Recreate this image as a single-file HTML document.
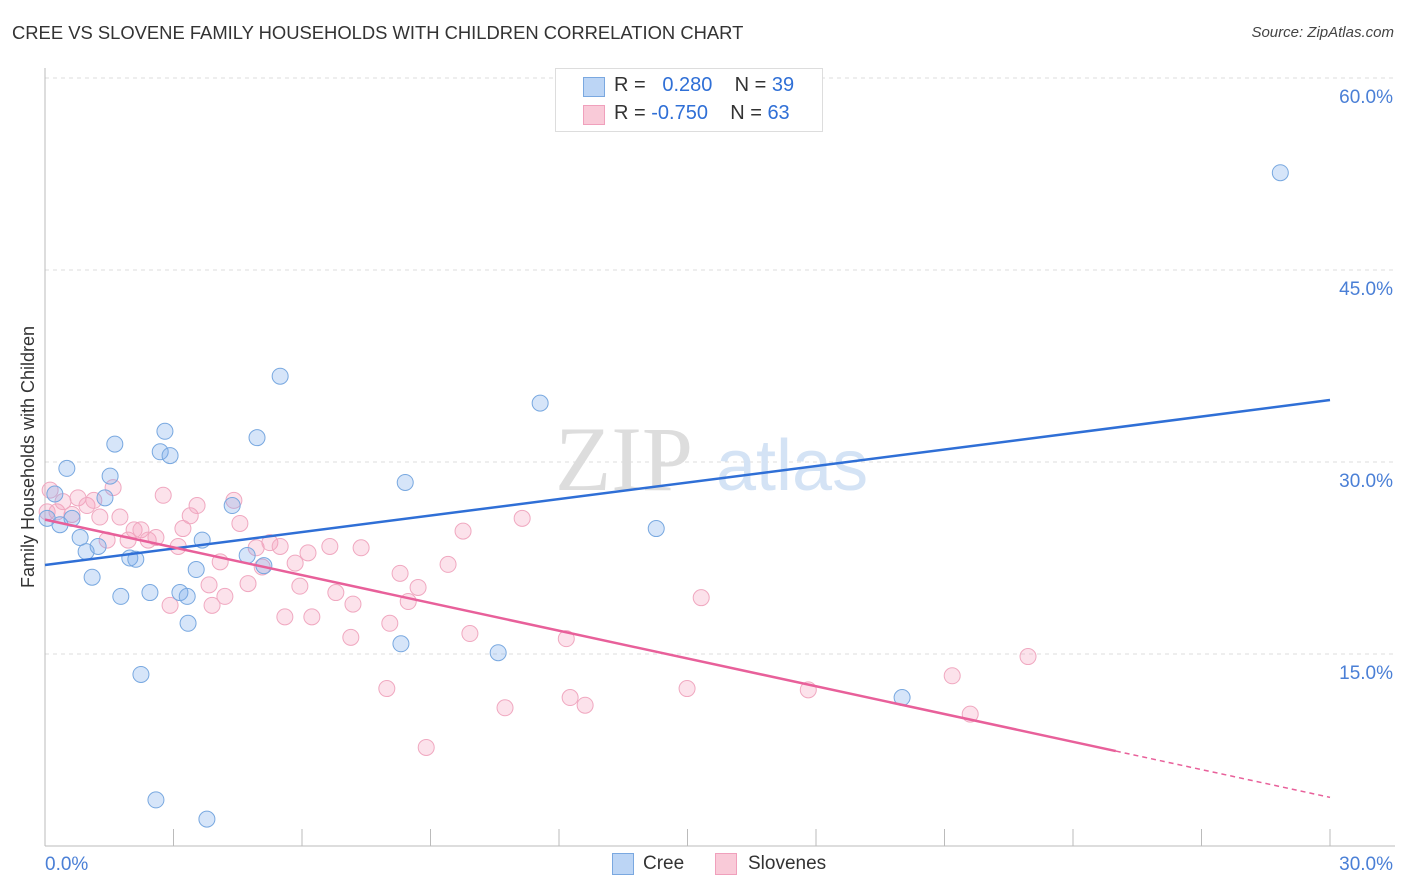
<!DOCTYPE html>
<html><head><meta charset="utf-8"><style>
body{margin:0;background:#fff;font-family:"Liberation Sans",sans-serif;}
#wrap{position:relative;width:1406px;height:892px;overflow:hidden;}
.t{position:absolute;white-space:nowrap;}
</style></head><body>
<div id="wrap">
<div class="t" style="left:12px;top:22px;font-size:18.4px;color:#333;">CREE VS SLOVENE FAMILY HOUSEHOLDS WITH CHILDREN CORRELATION CHART</div>
<div class="t" style="right:12px;top:24px;font-size:15px;color:#444;font-style:italic;">Source: ZipAtlas.com</div>
<svg id="svg" width="1406" height="892" style="position:absolute;left:0;top:0"></svg>
</div>
<script>
const xTicks=[0,30];
const yTicks=[15,30,45,60];
const creeX=[0.05,0.23,0.35,0.51,0.63,0.82,0.96,1.10,1.24,1.40,1.52,1.63,1.77,1.98,2.12,2.24,2.45,2.59,2.69,2.80,2.92,3.15,3.32,3.34,3.53,3.67,3.78,4.37,4.72,4.95,5.11,5.49,8.31,8.41,10.58,11.56,14.27,20.01,28.84];
const creeY=[25.6,27.5,25.1,29.5,25.6,24.1,23.0,21.0,23.4,27.2,28.9,31.4,19.5,22.5,22.4,13.4,19.8,3.6,30.8,32.4,30.5,19.8,19.5,17.4,21.6,23.9,2.1,26.6,22.7,31.9,21.9,36.7,15.8,28.4,15.1,34.6,24.8,11.6,52.6];
const sloX=[0.05,0.12,0.28,0.42,0.63,0.77,0.98,1.14,1.28,1.45,1.59,1.75,1.94,2.08,2.24,2.41,2.59,2.76,2.92,3.11,3.22,3.39,3.55,3.83,3.90,4.09,4.20,4.41,4.55,4.74,4.93,5.07,5.25,5.49,5.60,5.84,5.95,6.14,6.23,6.65,6.79,7.14,7.19,7.38,7.98,8.05,8.29,8.48,8.71,8.90,9.41,9.76,9.92,10.74,11.14,12.17,12.26,12.61,14.99,15.32,17.82,21.18,21.60,22.95];
const sloY=[26.1,27.8,26.1,26.9,25.9,27.2,26.6,27.0,25.7,23.9,28.0,25.7,23.9,24.7,24.7,23.9,24.1,27.4,18.8,23.4,24.8,25.8,26.6,20.4,18.8,22.2,19.5,27.0,25.2,20.5,23.3,21.8,23.7,23.4,17.9,22.1,20.3,22.9,17.9,23.4,19.8,16.3,18.9,23.3,12.3,17.4,21.3,19.1,20.2,7.7,22.0,24.6,16.6,10.8,25.6,16.2,11.6,11.0,12.3,19.4,12.2,13.3,10.3,14.8];
const creeLine=[21.95,34.84];
const sloLine=[25.5,3.8];
const sloSolidEnd=25.0;
const X0=45,X1=1330,Y0=846,PXY=12.8;
const sx=v=>X0+(v/30)*(X1-X0);
const sy=v=>Y0-v*PXY;
const svg=document.getElementById('svg');
const NS='http://www.w3.org/2000/svg';
function mk(t,a){const e=document.createElementNS(NS,t);for(const k in a)e.setAttribute(k,a[k]);svg.appendChild(e);return e;}
yTicks.forEach(v=>{
 const g=mk('line',{x1:X0,x2:1395,y1:sy(v),y2:sy(v),stroke:'#ddd','stroke-dasharray':'4,4'});
 
 
 const t=mk('text',{x:1393,y:sy(v)+25,'text-anchor':'end','font-size':19,fill:'#4a7fd6','font-family':'Liberation Sans'});
 t.textContent=v.toFixed(1)+'%';
 
 
});
let a=mk('line',{x1:X0,x2:X0,y1:68,y2:Y0,stroke:'#bbb'});


a=mk('line',{x1:X0,x2:1395,y1:Y0,y2:Y0,stroke:'#bbb'});


for(let i=1;i<=10;i++){const tk=mk('line',{x1:sx(i*3),x2:sx(i*3),y1:829,y2:Y0,stroke:'#bbb'});
 
 }
xTicks.forEach((v,i)=>{const t=mk('text',{x:i?1393:45,y:870,'text-anchor':i?'end':'start','font-size':19,fill:'#4a7fd6','font-family':'Liberation Sans'});
 t.textContent=v.toFixed(1)+'%';
 
 });
let w=mk('text',{x:555,y:490,'font-size':92,fill:'#ddd','font-family':'Liberation Serif'});w.textContent='ZIP';


w=mk('text',{x:716,y:490,'font-size':72,fill:'#d4e3f5','font-family':'Liberation Sans'});w.textContent='atlas';


const yt=mk('text',{x:34,y:457,transform:'rotate(-90 34 457)','text-anchor':'middle','font-size':18,fill:'#333','font-family':'Liberation Sans'});
yt.textContent='Family Households with Children';


sloX.forEach((x,i)=>{const c=mk('circle',{cx:sx(x),cy:sy(sloY[i]),r:8,fill:'rgba(244,160,190,0.3)',stroke:'#f0a8c0','stroke-width':1});
 
 });
creeX.forEach((x,i)=>{const c=mk('circle',{cx:sx(x),cy:sy(creeY[i]),r:8,fill:'rgba(120,170,235,0.3)',stroke:'#78a8e0','stroke-width':1});
 
 });
let l=mk('line',{x1:sx(0),y1:sy(creeLine[0]),x2:sx(30),y2:sy(creeLine[1]),stroke:'#2f6fd6','stroke-width':2.5});


const sl=x=>sloLine[0]+(sloLine[1]-sloLine[0])*x/30;
l=mk('line',{x1:sx(0),y1:sy(sl(0)),x2:sx(sloSolidEnd),y2:sy(sl(sloSolidEnd)),stroke:'#e8609a','stroke-width':2.5});


l=mk('line',{x1:sx(sloSolidEnd),y1:sy(sl(sloSolidEnd)),x2:sx(30),y2:sy(sl(30)),stroke:'#e8609a','stroke-width':1.5,'stroke-dasharray':'5,4'});


</script>
<div class="t" style="left:555px;top:68px;width:266px;height:62px;border:1px solid #ddd;background:#fff;">
 <div style="position:absolute;left:27px;top:8px;width:20px;height:18px;background:#bcd5f5;border:1px solid #7aa8e0;"></div>
 <div style="position:absolute;left:27px;top:36px;width:20px;height:18px;background:#f9cad8;border:1px solid #f0a0bc;"></div>
 <div class="t" style="left:58px;top:5px;font-size:20px;color:#333;">R = &nbsp;&nbsp;<span style="color:#2f6fd6">0.280</span> &nbsp;&nbsp; N = <span style="color:#2f6fd6">39</span></div>
 <div class="t" style="left:58px;top:33px;font-size:20px;color:#333;">R = <span style="color:#2f6fd6">-0.750</span> &nbsp;&nbsp; N = <span style="color:#2f6fd6">63</span></div>
</div>
<div class="t" style="left:612px;top:853px;width:20px;height:20px;background:#bcd5f5;border:1px solid #7aa8e0;"></div>
<div class="t" style="left:643px;top:853px;font-size:19px;color:#333;">Cree</div>
<div class="t" style="left:715px;top:853px;width:20px;height:20px;background:#f9cad8;border:1px solid #f0a0bc;"></div>
<div class="t" style="left:748px;top:853px;font-size:19px;color:#333;">Slovenes</div>
</body></html>
